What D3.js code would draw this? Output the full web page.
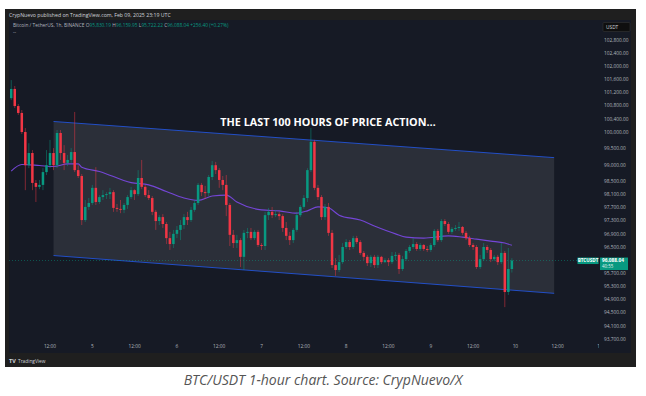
<!DOCTYPE html>
<html>
<head>
<meta charset="utf-8">
<script src="https://cdn.jsdelivr.net/npm/d3@7"></script>
<style>
body{margin:0;background:#ffffff;}
svg{display:block;}
</style>
</head>
<body>
<div id="chart"></div>
<script>
var W=646,H=396;

// BTC/USDT 1h candles, first one Feb 04 01:00 UTC
var firstCandle=new Date(Date.UTC(2025,1,4,1));
var opens=[101030,101310,100790,100580,100000,98990,99360,98450,98330,98390,
98780,98990,99360,98990,99970,99360,99060,99150,99390,98840,
98660,97320,97720,97840,98300,97870,98020,98080,98110,98170,
97690,97660,97630,97780,98020,98230,98110,98600,98330,98080,
97990,97570,97290,97410,97200,96770,96590,96900,97020,97170,
97410,97320,97630,97840,98390,98170,98140,98630,98990,98840,
98540,98390,97780,96870,96620,96710,96200,96930,96960,96770,
96960,96560,96530,97470,97570,97470,97500,97440,97080,96840,
96710,97020,97470,97720,97990,98840,99700,98300,98020,97410,
97720,96930,95950,95800,96040,96500,96650,96500,96770,96650,
96320,96200,96010,96200,95950,96200,96040,96100,96040,96230,
96260,95830,96130,96380,96500,96590,96440,96560,96440,96410,
96560,96990,96710,97290,97200,96960,97050,97080,97110,96930,
96770,96560,96500,95890,96130,96500,96410,96130,96200,96040,
96320,95130,95830.19];
var highs=[101580,101400,100850,100670,100120,99660,99450,98540,98540,98900,
99450,99760,99510,100060,100060,99600,99300,99510,100610,98990,
98720,97930,97990,98390,98930,98080,98230,98170,98300,98230,
97810,97930,97840,98080,98330,98260,98840,99150,98390,98230,
98050,97630,97470,97500,97260,96960,97020,97140,97320,97500,
97570,97720,97930,98450,98450,98360,98690,99120,99090,98900,
98660,98690,97840,97020,96870,96770,97020,97080,97080,97020,
97020,96620,97570,97690,97720,97630,97570,97500,97260,96960,
97080,97570,97780,98080,98900,100120,99760,98390,98080,97810,
97840,97020,96160,96260,96620,96740,96710,96840,96840,96710,
96380,96260,96260,96260,96260,96230,96160,96160,96350,96350,
96320,96230,96440,96560,96770,96650,96620,96590,96530,96620,
97050,97050,97350,97350,97260,97110,97170,97260,97140,96990,
96840,96620,96560,96260,96620,96560,96470,96260,96260,96620,
96380,96470,96159.95];
var lows=[100970,100730,100520,99940,98230,98900,98230,97870,98260,98230,
98690,98900,98840,98900,99150,98840,98960,99060,98780,98600,
97170,97260,97630,97780,97780,97810,97930,97960,97960,97570,
97570,97530,97530,97660,97960,97930,98050,98260,98020,97930,
97470,97020,97170,97080,96590,96410,96470,96770,96710,97050,
97170,97260,97570,97780,98050,97960,98050,98540,98720,98300,
98230,97440,96530,96470,96470,95890,95800,96770,96710,96710,
96500,96410,96410,97320,97380,97410,97320,96960,96710,96560,
96620,96960,97410,97660,97870,98780,98230,97930,97320,97320,
96840,95860,95620,95740,95980,96440,96410,96440,96590,96260,
96100,95920,95890,95860,95860,95980,96010,95920,95980,96100,
95680,95770,96070,96320,96440,96380,96380,96380,96350,96350,
96500,96650,96650,97140,96900,96900,96990,96990,96870,96710,
96500,96410,95830,95830,96070,96320,96040,96070,95950,95980,
94670,95040,95722.22];
var closes=[101310,100790,100580,100000,98990,99360,98450,98330,98390,98780,
98990,99360,98990,99970,99360,99060,99150,99390,98840,98660,
97320,97720,97840,98300,97870,98020,98080,98110,98170,97690,
97660,97630,97780,98020,98230,98110,98600,98330,98080,97990,
97570,97290,97410,97200,96770,96590,96900,97020,97170,97410,
97320,97630,97840,98390,98170,98140,98630,98990,98840,98540,
98390,97780,96870,96620,96710,96200,96930,96960,96770,96960,
96560,96530,97470,97570,97470,97500,97440,97080,96840,96710,
97020,97470,97720,97990,98840,99700,98300,98020,97410,97720,
96930,95950,95800,96040,96500,96650,96500,96770,96650,96320,
96200,96010,96200,95950,96200,96040,96100,96040,96230,96260,
95830,96130,96380,96500,96590,96440,96560,96440,96410,96560,
96990,96710,97290,97200,96960,97050,97080,97110,96930,96770,
96560,96500,95890,96130,96500,96410,96130,96200,96040,96320,
95130,95830,96088.04];

// moving average, read at hours after Feb 04 00:00 UTC
var maHours=[1,4,9,13,17,20,21,26,35,40,45,50,54,58,62,65,72,77,82,85,88,91,94,100,104,110,113,118,125,129,133,137,141,143];
var maValues=[98810,99010,98980,98950,99030,99030,98930,98800,98460,98390,98190,97990,97920,98050,98080,97870,97630,97600,97530,97600,97720,97690,97470,97320,97140,96900,96800,96770,96840,96800,96740,96680,96620,96550];

// parallel channel
var channelHours=[13,155];
var channelUpper=[100320,99220];
var channelLower=[96240,95090];

// 96,100 is hidden under the last-price label in the original
var priceTicks=[102800,102400,102000,101600,101200,100800,100400,100000,99500,99000,98500,98100,97700,97300,96900,96500,95700,95300,94900,94500,94100,93700];
var lastPrice=96088.04;

var upColor="#089981",downColor="#f23645";
var font="'Open Sans', 'Noto Sans', sans-serif";

var t0=new Date(Date.UTC(2025,1,4,0));
function hourAt(h){return d3.utcHour.offset(t0,h);}

var xs=d3.scaleUtc().domain([t0,new Date(Date.UTC(2025,1,11,0))]).range([7.7,600]);
var ys=d3.scaleLinear().domain([93700,102800]).range([339,40]);

var candles=closes.map(function(c,i){
    return {t:d3.utcHour.offset(firstCandle,i),o:opens[i],h:highs[i],l:lows[i],c:c};
});

var svg=d3.select("#chart").append("svg")
    .attr("width",W).attr("height",H)
    .style("font-family",font);

// frame + panel
svg.append("rect").attr("x",5).attr("y",9).attr("width",631).attr("height",358).attr("fill","#1f1f1f");
svg.append("rect").attr("x",9).attr("y",20).attr("width",622).attr("height",333).attr("fill","#161a25");

var clip=svg.append("clipPath").attr("id","plotclip");
clip.append("rect").attr("x",9).attr("y",20).attr("width",589).attr("height",333);

var plot=svg.append("g").attr("clip-path","url(#plotclip)");

// channel
var chPts=[
    [xs(hourAt(channelHours[0])),ys(channelUpper[0])],
    [xs(hourAt(channelHours[1])),ys(channelUpper[1])],
    [xs(hourAt(channelHours[1])),ys(channelLower[1])],
    [xs(hourAt(channelHours[0])),ys(channelLower[0])]
];
plot.append("polygon")
    .attr("points",chPts.map(function(p){return p.join(",");}).join(" "))
    .attr("fill","rgba(120,123,134,0.22)");
plot.append("line")
    .attr("x1",chPts[0][0]).attr("y1",chPts[0][1]).attr("x2",chPts[1][0]).attr("y2",chPts[1][1])
    .attr("stroke","#2353d8").attr("stroke-width",0.9);
plot.append("line")
    .attr("x1",chPts[3][0]).attr("y1",chPts[3][1]).attr("x2",chPts[2][0]).attr("y2",chPts[2][1])
    .attr("stroke","#2353d8").attr("stroke-width",0.9);

// last price dotted line
plot.append("line")
    .attr("x1",9).attr("x2",578)
    .attr("y1",ys(lastPrice)).attr("y2",ys(lastPrice))
    .attr("stroke",upColor).attr("stroke-width",0.8)
    .attr("stroke-dasharray","1,2").attr("opacity",0.6);

// moving average
var maLine=d3.line()
    .x(function(d,i){return xs(hourAt(maHours[i]));})
    .y(function(d){return ys(d);})
    .curve(d3.curveMonotoneX);
plot.append("path")
    .datum(maValues)
    .attr("d",maLine)
    .attr("fill","none")
    .attr("stroke","#7446d6")
    .attr("stroke-width",1.1);

// candles
var cg=plot.append("g").selectAll("g").data(candles).enter().append("g");
cg.append("line")
    .attr("x1",function(d){return xs(d.t);})
    .attr("x2",function(d){return xs(d.t);})
    .attr("y1",function(d){return ys(d.h);})
    .attr("y2",function(d){return ys(d.l);})
    .attr("stroke",function(d){return d.c>=d.o?upColor:downColor;})
    .attr("stroke-width",0.7)
    .attr("opacity",0.7);
cg.append("rect")
    .attr("x",function(d){return xs(d.t)-1.25;})
    .attr("width",2.5)
    .attr("y",function(d){return ys(Math.max(d.o,d.c));})
    .attr("height",function(d){return Math.max(0.8,Math.abs(ys(d.o)-ys(d.c)));})
    .attr("fill",function(d){return d.c>=d.o?upColor:downColor;});

// title
svg.append("text")
    .attr("x",328).attr("y",126)
    .attr("text-anchor","middle")
    .attr("fill","#ffffff")
    .style("font-size","10.8px")
    .style("font-weight","bold")
    .text("THE LAST 100 HOURS OF PRICE ACTION…");

// time axis
var timeTicks=d3.utcHour.every(12).range(new Date(Date.UTC(2025,1,4,12)),new Date(Date.UTC(2025,1,11,1)));
svg.append("g").selectAll("text").data(timeTicks).enter().append("text")
    .attr("x",function(d){return xs(d);})
    .attr("y",348)
    .attr("text-anchor","middle")
    .attr("fill","#b2b5be")
    .style("font-size","4.8px")
    .text(function(d){return d.getUTCHours()===12?"12:00":String(d.getUTCDate());});

// price scale
svg.append("rect").attr("x",599).attr("y",20).attr("width",32).attr("height",333).attr("fill","#161a25");
svg.append("g").selectAll("text").data(priceTicks).enter().append("text")
    .attr("x",604)
    .attr("y",function(d){return ys(d);})
    .attr("dy","0.35em")
    .attr("fill","#b2b5be")
    .style("font-size","4.8px")
    .text(function(d){return d3.format(",.2f")(d);});

svg.append("rect").attr("x",603).attr("y",22.5).attr("width",27).attr("height",9)
    .attr("fill","#0f0f0f").attr("stroke","#3a3a3a").attr("stroke-width",0.5).attr("rx",1);
svg.append("text").attr("x",606).attr("y",29).attr("fill","#d1d4dc").style("font-size","4.8px").text("USDT");

// last price labels
var ly=ys(lastPrice);
svg.append("rect").attr("x",577.5).attr("y",ly-3).attr("width",21).attr("height",6.5).attr("fill",upColor);
svg.append("text").attr("x",588).attr("y",ly+1.8).attr("text-anchor","middle").attr("fill","#ffffff")
    .style("font-size","4.6px").style("font-weight","bold").text("BTCUSDT");
svg.append("rect").attr("x",600).attr("y",ly-3).attr("width",28).attr("height",12.5).attr("fill",upColor);
svg.append("text").attr("x",602).attr("y",ly+1.8).attr("fill","#ffffff")
    .style("font-size","4.8px").style("font-weight","bold").text(d3.format(",.2f")(lastPrice));
svg.append("text").attr("x",602).attr("y",ly+7.8).attr("fill","#e0f2ef")
    .style("font-size","4.4px").text("40:55");

// header
svg.append("text").attr("x",9).attr("y",16.5).attr("fill","#d1d4dc").style("font-size","5.2px")
    .text("CrypNuevo published on TradingView.com, Feb 09, 2025 23:19 UTC");
var hdr=svg.append("text").attr("x",13).attr("y",27).style("font-size","4.8px");
hdr.append("tspan").attr("fill","#b2b5be").text("Bitcoin / TetherUS, 1h, BINANCE  ");
hdr.append("tspan").attr("fill","#b2b5be").text("O");
hdr.append("tspan").attr("fill",upColor).text("95,830.19 ");
hdr.append("tspan").attr("fill","#b2b5be").text("H");
hdr.append("tspan").attr("fill",upColor).text("96,159.95 ");
hdr.append("tspan").attr("fill","#b2b5be").text("L");
hdr.append("tspan").attr("fill",upColor).text("95,722.22 ");
hdr.append("tspan").attr("fill","#b2b5be").text("C");
hdr.append("tspan").attr("fill",upColor).text("96,088.04 +256.40 (+0.27%)");
svg.append("text").attr("x",13).attr("y",34).attr("fill","#b2b5be").style("font-size","4.8px").text("--");

// footer logo
svg.append("text").attr("x",9).attr("y",362.5).attr("fill","#d1d4dc")
    .style("font-size","5.5px").style("font-weight","bold").text("TV");
svg.append("text").attr("x",18).attr("y",362.5).attr("fill","#d1d4dc")
    .style("font-size","4.8px").text("TradingView");

// caption
svg.append("text")
    .attr("x",323).attr("y",385)
    .attr("text-anchor","middle")
    .attr("fill","#555555")
    .style("font-size","14px")
    .style("font-style","italic")
    .text("BTC/USDT 1-hour chart. Source: CrypNuevo/X");
</script>
</body>
</html>
